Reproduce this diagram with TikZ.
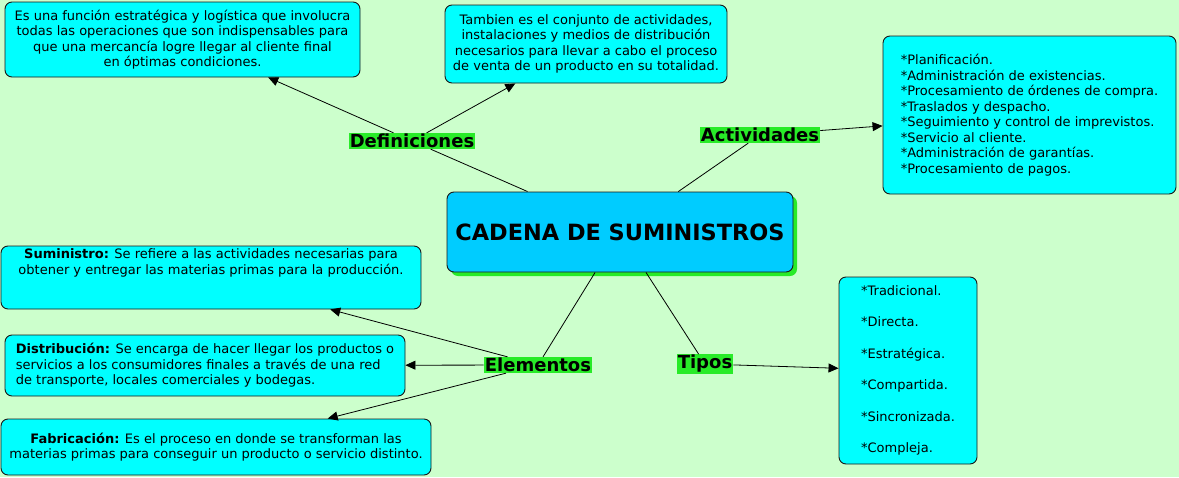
\documentclass[tikz,border=0pt]{standalone}
\usepackage{fontspec}
\setmainfont{DejaVu Sans}
\usetikzlibrary{arrows.meta,shadows}
\definecolor{fondo}{RGB}{204,255,204}
\definecolor{caja}{RGB}{0,255,255}
\definecolor{central}{RGB}{0,204,255}
\definecolor{verde}{RGB}{40,235,40}
\begin{document}
\begin{tikzpicture}[
		x=1pt, y=-1pt,
		font=\fontsize{13}{15.5}\selectfont,
		box/.style={rectangle, draw=black!90, fill=caja, rounded corners=7pt, line width=0.9pt, inner sep=0pt},
		lbl/.style={fill=verde, inner sep=1pt, font=\fontsize{18}{20}\selectfont\bfseries},
		lin/.style={line width=0.8pt},
		arr/.style={lin, -{Triangle[length=10pt,width=9pt]}}
	]
		\fill[fondo] (0,0) rectangle (1179,477);
		\node[box, fill=central, minimum width=346pt, minimum height=80pt, font=\fontsize{22.4}{26}\selectfont\bfseries, drop shadow={shadow xshift=4pt, shadow yshift=-4pt, fill=verde, opacity=1}] (cad) at (620,232) {CADENA DE SUMINISTROS};
		\node[box, minimum width=355pt, minimum height=75pt, align=center] (def1) at (182.5,39.5) {Es una función estratégica y logística que involucra\\todas las operaciones que son indispensables para\\que una mercancía logre llegar al cliente final\\en óptimas condiciones.};
		\node[box, minimum width=282pt, minimum height=78pt, align=center] (def2) at (586,44) {Tambien es el conjunto de actividades,\\instalaciones y medios de distribución\\necesarios para llevar a cabo el proceso\\de venta de un producto en su totalidad.};
		\node[box, minimum width=293pt, minimum height=158pt, align=left] (act) at (1029.5,115) {*Planificación.\\*Administración de existencias.\\*Procesamiento de órdenes de compra.\\*Traslados y despacho.\\*Seguimiento y control de imprevistos.\\*Servicio al cliente.\\*Administración de garantías.\\*Procesamiento de pagos.};
		\node[box, minimum width=420pt, minimum height=63pt, align=center] (sum) at (211,277.5) {\textbf{Suministro:} Se refiere a las actividades necesarias para\\obtener y entregar las materias primas para la producción.\\[12pt]\strut};
		\node[box, minimum width=400pt, minimum height=61pt, align=left] (dist) at (205,365.5) {\textbf{Distribución:} Se encarga de hacer llegar los productos o\\servicios a los consumidores finales a través de una red\\de transporte, locales comerciales y bodegas.};
		\node[box, minimum width=430pt, minimum height=56pt, align=center] (fab) at (216,447) {\textbf{Fabricación:} Es el proceso en donde se transforman las\\materias primas para conseguir un producto o servicio distinto.};
		\node[box, minimum width=138pt, minimum height=187pt, align=left] (tip) at (908,370.5) {*Tradicional.\\[16pt]*Directa.\\[16pt]*Estratégica.\\[16pt]*Compartida.\\[16pt]*Sincronizada.\\[16pt]*Compleja.};
		\node[lbl] (defs) at (412,141) {Definiciones};
		\node[lbl] (actl) at (760,135) {Actividades};
		\node[lbl] (elem) at (538,365) {Elementos};
		\node[lbl] (tipl) at (705,364) {Tipos};
		\draw[lin] (cad) -- (defs);
		\draw[lin] (cad) -- (actl);
		\draw[lin] (cad) -- (elem);
		\draw[lin] (cad) -- (tipl);
		\draw[arr] (defs) -- (def1);
		\draw[arr] (defs) -- (def2);
		\draw[arr] (actl) -- (act);
		\draw[arr] (elem) -- (sum);
		\draw[arr] (elem) -- (dist);
		\draw[arr] (elem) -- (fab);
		\draw[arr] (tipl) -- (tip);
	\end{tikzpicture}
\end{document}
